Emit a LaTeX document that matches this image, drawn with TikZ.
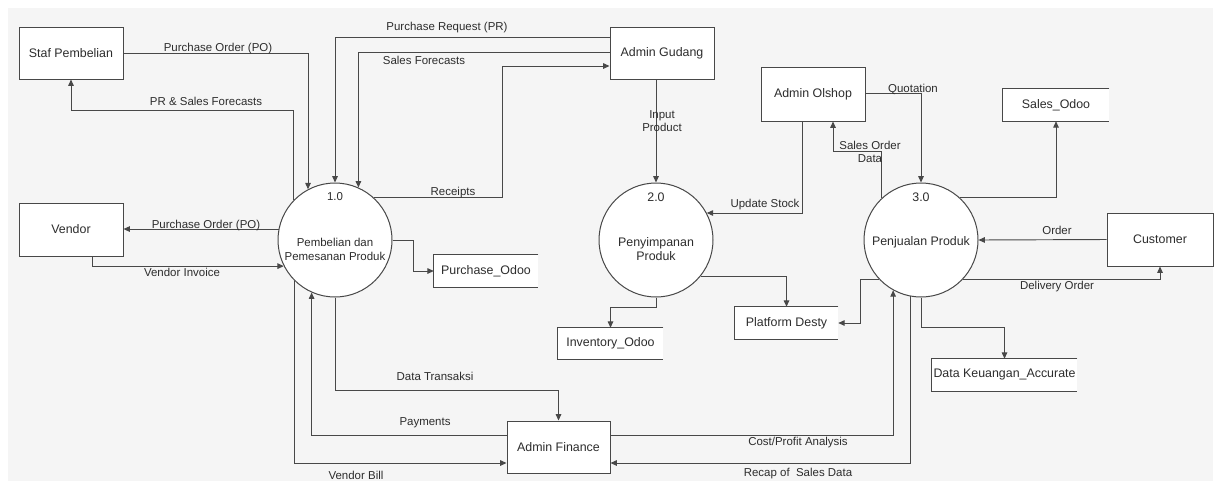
\documentclass[tikz,border=0pt]{standalone}
\usepackage{fontspec}
\setmainfont{Liberation Sans}
\usetikzlibrary{arrows.meta}
\definecolor{lc}{RGB}{72,72,72}
\definecolor{tc}{RGB}{45,45,45}
\definecolor{bg}{RGB}{245,245,245}
\begin{document}
\begin{tikzpicture}[x=0.75pt,y=-0.75pt,
  fs/.style={font=\fontsize{8.6pt}{10.2pt}\selectfont, text=tc},
  bfs/.style={font=\fontsize{9.3pt}{11pt}\selectfont, text=tc},
  lbl/.style={fs, inner sep=0, align=center},
  clbl/.style={fs, inner sep=0, align=center},
  blbl/.style={bfs, inner sep=0, align=center},
  sz/.style 2 args={minimum width=#1*0.75pt, minimum height=#2*0.75pt},
  ent/.style={bfs, draw=lc, fill=white, line width=0.75pt, inner sep=0},
  proc/.style={circle, draw=lc, fill=white, line width=0.75pt, minimum size=114*0.75pt, inner sep=0},
  store/.style={bfs, fill=white, inner sep=0},
  ln/.style={draw=lc, line width=0.7pt},
  arr/.style={ln, -{Triangle[length=4.8pt,width=4.2pt]}}
]
\useasboundingbox (0,0) rectangle (1216,483);
\fill[bg] (8,8) rectangle (1213,481);

% external entities
\node[ent, sz={104}{52}] (staf) at (71,53) {Staf Pembelian};
\node[ent, sz={104}{52}] (gudang) at (662,53) {Admin Gudang};
\node[ent, sz={104}{54}] (olshop) at (813,94) {Admin Olshop};
\node[ent, sz={104}{53}] (vendor) at (71,229.5) {Vendor};
\node[ent, sz={106}{53}] (cust) at (1160,239.5) {Customer};
\node[ent, sz={103}{52}] (fin) at (558.5,447) {Admin Finance};

% processes
\node[proc] (p1) at (335,240) {};
\node[proc] (p2) at (656,240) {};
\node[proc] (p3) at (921,240) {};
\node[clbl] (p1n) at (335,197) {1.0};
\node[clbl] (p1t) at (335,249.5) {Pembelian dan\\Pemesanan Produk};
\node[blbl] (p2n) at (656,197) {2.0};
\node[blbl] (p2t) at (656,249) {Penyimpanan\\Produk};
\node[blbl] (p3n) at (921,197) {3.0};
\node[blbl] (p3t) at (921,242) {Penjualan Produk};

% data stores
\node[store, sz={106}{32}] (sodoo) at (1056,105) {Sales\_Odoo};
\node[store, sz={104}{32}] (podoo) at (486,271) {Purchase\_Odoo};
\node[store, sz={103}{32}] (desty) at (786.5,323) {Platform Desty};
\node[store, sz={105}{31}] (inv) at (610.5,343.5) {Inventory\_Odoo};
\node[store, sz={145}{32}] (dk) at (1004.5,375) {Data Keuangan\_Accurate};
\foreach \s in {sodoo,podoo,desty,inv,dk}
  \draw[ln, line width=0.75pt] (\s.north east) -- (\s.north west) -- (\s.south west) -- (\s.south east);

% connectors
\draw[arr] (staf.east) -| (p1.118);
\draw[arr] (p1.136) |- (71,110) -- (staf.south);
\draw[arr] (gudang.west |- 0,37) -| (p1.north);
\draw[arr] (gudang.west |- 0,52) -| (p1.66);
\draw[arr] (p1.47) -| (502,66) -- (gudang.west |- 0,66);
\draw[arr] (p1.169) -- (vendor.east |- p1.169);
\draw[arr] (vendor.south -| 92,0) |- (p1.207);
\draw[arr] (p1.east) -- (413,240) |- (podoo.west);
\draw[arr] (p1.225) |- (fin.west |- 0,463);
\draw[arr] (fin.west |- 0,435) -| (p1.246);
\draw[arr] (p1.south) |- (fin.north |- 0,390) -- (fin.north);

\draw[arr] (gudang.south -| p2.north) -- (p2.north);
\draw[arr] (olshop.south -| 802,0) |- (p2.28);
\draw[arr] (p2.south) |- (inv.north |- 0,307) -- (inv.north);
\draw[arr] (p2.-39) -| (desty.north);

\draw[arr] (olshop.east |- 0,93) -| (p3.north);
\draw[arr] (p3.133) |- (833,151) -- (olshop.south -| 833,0);
\draw[arr] (p3.47) -| (sodoo.south);
\draw[arr] (cust.west) -- (p3.east);
\draw[arr] (p3.-43) -| (cust.south);
\draw[arr] (p3.223) -| (860,323) -- (desty.east);
\draw[arr] (fin.east |- 0,435) -| (p3.241);
\draw[arr] (p3.259) |- (fin.east |- 0,463);
\draw[arr] (p3.south) |- (dk.north |- 0,327) -- (dk.north);

% labels
\node[lbl] (l1) at (218,49) {Purchase Order (PO)};
\node[lbl] (l2) at (206,101) {PR \& Sales Forecasts};
\node[lbl] (l3) at (447,28) {Purchase Request (PR)};
\node[lbl] (l4) at (424,60) {Sales Forecasts};
\node[lbl] (l5) at (453,193) {Receipts};
\node[lbl] (l6) at (206,226) {Purchase Order (PO)};
\node[lbl] (l7) at (182,272) {Vendor Invoice};
\node[lbl] (l8) at (662,121) {Input\\Product};
\node[lbl] (l9) at (765,205) {Update Stock};
\node[lbl] (l10) at (913,89) {Quotation};
\node[lbl] (l11) at (870,152) {Sales Order\\Data};
\node[lbl] (l12) at (1057,230) {Order};
\node[lbl] (l13) at (1057,287) {Delivery Order};
\node[lbl] (l14) at (435,376) {Data Transaksi};
\node[lbl] (l15) at (425,423) {Payments};
\node[lbl] (l16) at (356,475) {Vendor Bill};
\node[lbl] (l17) at (798,443) {Cost/Profit Analysis};
\node[lbl] (l18) at (798,474) {Recap of\ \ Sales Data};
\end{tikzpicture}
\end{document}
